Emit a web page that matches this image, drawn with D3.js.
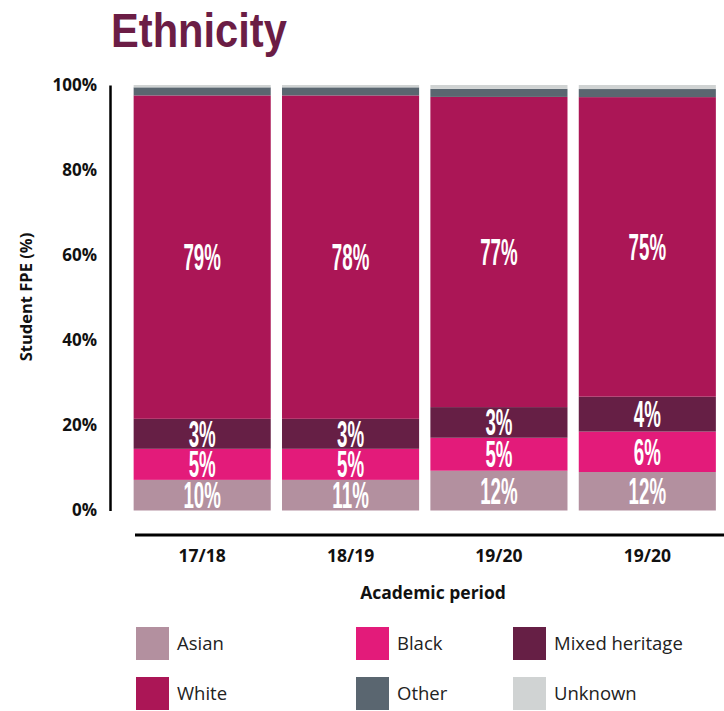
<!DOCTYPE html>
<html>
<head>
<meta charset="utf-8">
<script src="https://cdn.jsdelivr.net/npm/d3@7"></script>
<style>
  body { margin: 0; background: #fff; }
  svg { display: block; }
</style>
</head>
<body>
<div class="chart"></div>
<script>
// periods (the last one really does say 19/20 twice in the source)
const periods = ["17/18", "18/19", "19/20", "19/20"]
const groups = ["Asian", "Black", "Mixed heritage", "White", "Other", "Unknown"]

// segment heights as drawn (%)
const asian   = [7.2, 7.2, 9.35, 9.05]
const black   = [7.3, 7.3, 7.75, 9.5]
const mixed   = [7.05, 7.05, 7.2, 8.2]
const white   = [76.0, 76.0, 72.9, 70.4]
const other   = [1.9, 1.9, 1.9, 1.9]
const unknown = [0.55, 0.55, 0.9, 0.95]

// label text printed on the bars
const asianLabels = ["10%", "11%", "12%", "12%"]
const blackLabels = ["5%", "5%", "5%", "6%"]
const mixedLabels = ["3%", "3%", "3%", "4%"]
const whiteLabels = ["79%", "78%", "77%", "75%"]

const yTicks = [0, 20, 40, 60, 80, 100]

const colors = ["#b3909f", "#e31b7a", "#661f45", "#ab1656", "#5a6670", "#d0d3d3"]

const width = 724, height = 711

const series = [asian, black, mixed, white, other, unknown]
const labels = [asianLabels, blackLabels, mixedLabels, whiteLabels, null, null]

const rows = periods.map((p, i) => {
  const r = {idx: i, period: p}
  groups.forEach((g, k) => { r[g] = series[k][i] })
  return r
})

const stacked = d3.stack().keys(groups)(rows)

const svg = d3.select(".chart").append("svg")
  .attr("width", width)
  .attr("height", height)

const x = d3.scaleBand()
  .domain(periods.map((d, i) => i))
  .range([128, 721.5])
  .paddingInner(0.076)
  .paddingOuter(0.038)

const y = d3.scaleLinear()
  .domain([0, 100])
  .range([510.5, 85])

const color = d3.scaleOrdinal().domain(groups).range(colors)

// title, squeezed to look like the condensed face
svg.append("text")
  .attr("transform", "translate(111,47) scale(0.85,1)")
  .attr("font-family", "Liberation Sans, Arial, sans-serif")
  .attr("font-weight", "bold")
  .attr("font-size", 49)
  .attr("fill", "#6b1d45")
  .text("Ethnicity")

// bars
const layer = svg.append("g").selectAll("g")
  .data(stacked)
  .join("g")
    .attr("fill", d => color(d.key))

layer.selectAll("rect")
  .data(d => d)
  .join("rect")
    .attr("x", d => x(d.data.idx))
    .attr("width", x.bandwidth())
    .attr("y", d => y(d[1]))
    .attr("height", d => y(d[0]) - y(d[1]))

// labels on the bars
stacked.forEach((s, k) => {
  if (!labels[k]) return
  svg.append("g").selectAll("text")
    .data(s)
    .join("text")
      .attr("transform", d => `translate(${x(d.data.idx) + x.bandwidth() / 2},${(y(d[0]) + y(d[1])) / 2 + 13}) scale(0.52,1)`)
      .attr("text-anchor", "middle")
      .attr("font-family", "Liberation Sans, Arial, sans-serif")
      .attr("font-weight", "bold")
      .attr("font-size", 36)
      .attr("fill", "#fff")
      .text((d, i) => labels[k][i])
})

// y axis
const yAxis = svg.append("g")
  .attr("transform", "translate(110,0)")
  .call(d3.axisLeft(y).tickValues(yTicks).tickSize(0).tickPadding(13).tickFormat(d => d + "%"))
yAxis.select(".domain").attr("stroke", "#000").attr("stroke-width", 2.5)
yAxis.selectAll("text")
  .attr("font-family", "Open Sans")
  .attr("font-weight", "bold")
  .attr("font-size", 17)
  .attr("fill", "#111")

svg.append("text")
  .attr("transform", "translate(32,297) rotate(-90)")
  .attr("text-anchor", "middle")
  .attr("font-family", "Open Sans")
  .attr("font-weight", "bold")
  .attr("font-size", 16.5)
  .attr("fill", "#111")
  .text("Student FPE (%)")

// x axis
const xAxis = svg.append("g")
  .attr("transform", "translate(0,535)")
  .call(d3.axisBottom(x).tickSize(0).tickPadding(15).tickFormat(i => periods[i]))
xAxis.select(".domain")
  .attr("d", "M135,0H724")
  .attr("stroke", "#000")
  .attr("stroke-width", 3)
xAxis.selectAll("text")
  .attr("font-family", "Open Sans")
  .attr("font-weight", "bold")
  .attr("font-size", 17.5)
  .attr("fill", "#111")

svg.append("text")
  .attr("x", 433)
  .attr("y", 599)
  .attr("text-anchor", "middle")
  .attr("font-family", "Open Sans")
  .attr("font-weight", "bold")
  .attr("font-size", 17.5)
  .attr("fill", "#111")
  .text("Academic period")

// legend
const legendX = [136, 356, 513]
const legendY = [627, 677]
const legend = svg.append("g").selectAll("g")
  .data(groups)
  .join("g")
    .attr("transform", (d, i) => `translate(${legendX[i % 3]},${legendY[Math.floor(i / 3)]})`)

legend.append("rect")
  .attr("width", 33)
  .attr("height", 33)
  .attr("fill", d => color(d))

legend.append("text")
  .attr("x", 41)
  .attr("y", 23)
  .attr("font-family", "Open Sans")
  .attr("font-size", 18.5)
  .attr("fill", "#222")
  .text(d => d)
</script>
</body>
</html>
